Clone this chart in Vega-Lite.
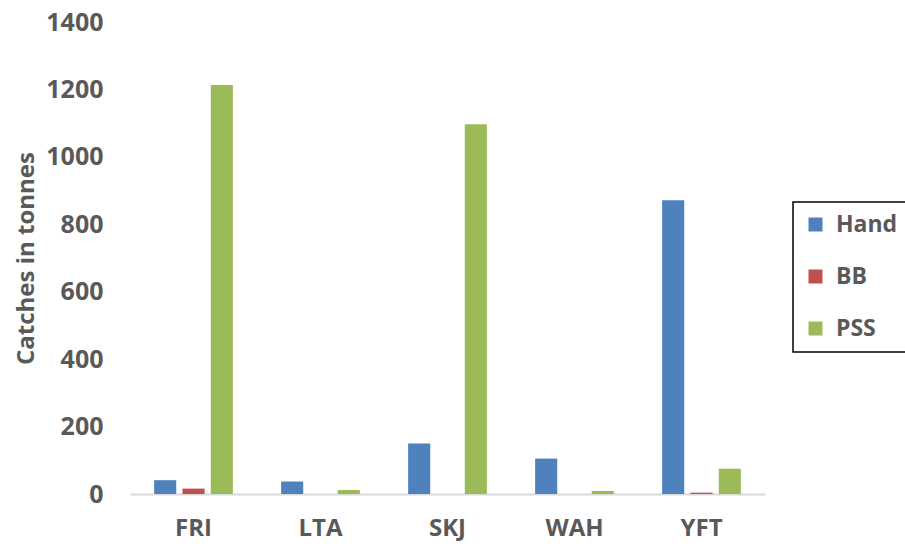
{
  "$schema": "https://vega.github.io/schema/vega-lite/v6.json",
  "width": 635,
  "height": 472,
  "autosize": {"type": "none"},
  "padding": {"left": 130, "top": 22, "right": 140, "bottom": 54},
  "background": "white",
  "config": {
    "view": {"stroke": null},
    "font": "Open Sans",
    "axis": {"labelFont": "Open Sans", "titleFont": "Open Sans"}
  },
  "data": {
    "values": [
      {"species": "FRI", "gear": "Hand", "catch": 41},
      {"species": "FRI", "gear": "BB", "catch": 16},
      {"species": "FRI", "gear": "PSS", "catch": 1213},
      {"species": "LTA", "gear": "Hand", "catch": 37},
      {"species": "LTA", "gear": "BB", "catch": 0},
      {"species": "LTA", "gear": "PSS", "catch": 12},
      {"species": "SKJ", "gear": "Hand", "catch": 150},
      {"species": "SKJ", "gear": "BB", "catch": 0},
      {"species": "SKJ", "gear": "PSS", "catch": 1097},
      {"species": "WAH", "gear": "Hand", "catch": 105},
      {"species": "WAH", "gear": "BB", "catch": 0},
      {"species": "WAH", "gear": "PSS", "catch": 9},
      {"species": "YFT", "gear": "Hand", "catch": 871},
      {"species": "YFT", "gear": "BB", "catch": 4},
      {"species": "YFT", "gear": "PSS", "catch": 75}
    ]
  },
  "mark": {"type": "bar"},
  "encoding": {
    "x": {
      "field": "species",
      "type": "nominal",
      "scale": {"paddingInner": 0.38, "paddingOuter": 0.19},
      "axis": {
        "title": null,
        "labelAngle": 0,
        "labelFontSize": 24,
        "labelFontWeight": "bold",
        "labelColor": "#595959",
        "labelPadding": 22,
        "ticks": false,
        "domainColor": "#D9D9D9",
        "domainWidth": 2
      }
    },
    "xOffset": {
      "field": "gear",
      "type": "nominal",
      "sort": ["Hand", "BB", "PSS"],
      "scale": {"paddingInner": 0.22}
    },
    "y": {
      "field": "catch",
      "type": "quantitative",
      "scale": {"domain": [0, 1400], "nice": false},
      "axis": {
        "title": "Catches in tonnes",
        "values": [0, 200, 400, 600, 800, 1000, 1200, 1400],
        "format": "d",
        "grid": false,
        "domain": false,
        "ticks": false,
        "labelFontSize": 25,
        "labelFontWeight": "bold",
        "labelColor": "#595959",
        "labelPadding": 27,
        "titleFontSize": 24,
        "titleFontWeight": "bold",
        "titleColor": "#595959",
        "titlePadding": 7
      }
    },
    "color": {
      "field": "gear",
      "type": "nominal",
      "sort": ["Hand", "BB", "PSS"],
      "scale": {"domain": ["Hand", "BB", "PSS"], "range": ["#4F81BD", "#C0504D", "#9BBB59"]},
      "legend": {
        "title": null,
        "orient": "none",
        "legendX": 663,
        "legendY": 180,
        "symbolType": "square",
        "symbolSize": 196,
        "symbolStrokeWidth": 0,
        "labelFontSize": 23,
        "labelFontWeight": "bold",
        "labelColor": "#595959",
        "labelOffset": 9,
        "rowPadding": 28,
        "padding": 11,
        "strokeColor": "black",
        "encode": {"legend": {"update": {"strokeWidth": {"value": 1.5}}}}
      }
    }
  }
}
